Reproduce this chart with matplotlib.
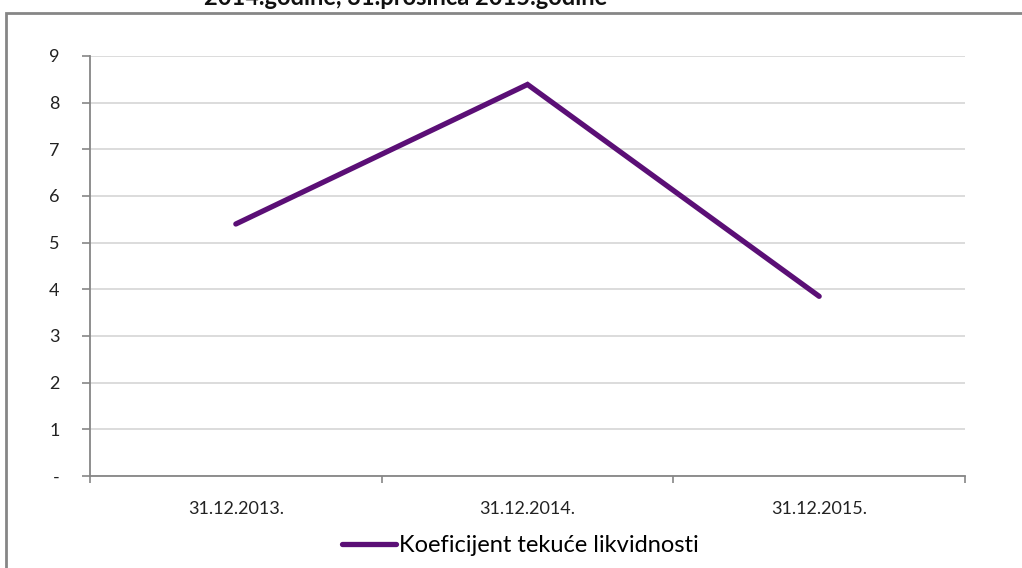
import matplotlib
matplotlib.use("Agg")
import matplotlib.pyplot as plt
from matplotlib.patches import Rectangle

plt.rcParams['font.family'] = ['Lato', 'DejaVu Sans']

dates = ["31.12.2013.", "31.12.2014.", "31.12.2015."]
koef = [5.40, 8.39, 3.85]
y_ticks = [0, 1, 2, 3, 4, 5, 6, 7, 8, 9]
y_labels = ["-", "1", "2", "3", "4", "5", "6", "7", "8", "9"]
series_name = "Koeficijent tekuće likvidnosti"
title_tail = "2014.godine, 31.prosinca 2015.godine"

W, H = 1022, 568
fig = plt.figure(figsize=(W / 100, H / 100), dpi=100)
ax = fig.add_axes([90 / W, 1 - 476 / H, (965 - 90) / W, (476 - 56) / H])

axis_grey = "#868686"
x = list(range(len(dates)))
line, = ax.plot(x, koef, color="#5b0f76", linewidth=3.8,
                solid_capstyle="round", solid_joinstyle="miter", label=series_name)

ax.set_xlim(-0.5, len(dates) - 0.5)
ax.set_ylim(0, 9)
ax.set_yticks(y_ticks)
ax.set_yticklabels(y_labels)
ax.set_xticks(x)
ax.set_xticklabels(dates)
ax.set_xticks([i - 0.5 for i in range(len(dates) + 1)], minor=True)

ax.tick_params(axis="y", direction="out", length=6, width=1.2, color=axis_grey,
               labelsize=13, pad=16, labelcolor="#222222")
ax.tick_params(axis="x", which="major", length=0, labelsize=13, pad=18,
               labelcolor="#222222")
ax.tick_params(axis="x", which="minor", direction="out", length=5, width=1.2,
               color=axis_grey)

ax.grid(axis="y", color="#d9d9d9", linewidth=1.3)
ax.set_axisbelow(True)
for s in ["top", "right"]:
    ax.spines[s].set_visible(False)
for s in ["left", "bottom"]:
    ax.spines[s].set_color(axis_grey)
    ax.spines[s].set_linewidth(1.3)

# outer chart frame (extends past the right and bottom edges)
fig.patches.append(Rectangle((6 / W, -0.1), 1.2, 1.1 - 13 / H,
                             transform=fig.transFigure, fill=False,
                             edgecolor=axis_grey, linewidth=2.0))

# title, mostly cut off at the top as in the source
fig.text(406 / W, 1 - 5 / H, title_tail, ha="center", va="baseline",
         fontsize=17, fontweight="bold", color="#111111")

fig.legend(handles=[line], loc="center", bbox_to_anchor=(520 / W, 1 - 546 / H),
           frameon=False, fontsize=17, handlelength=2.3, handletextpad=0.12,
           borderpad=0)

fig.savefig("out.png", dpi=100)
